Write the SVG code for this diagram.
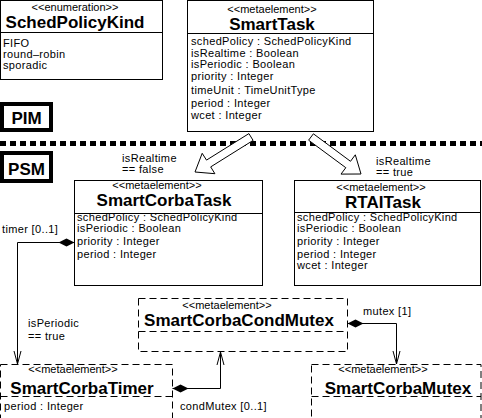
<svg xmlns="http://www.w3.org/2000/svg" width="482" height="418" viewBox="0 0 482 418">
<style>
.box{fill:#fff;stroke:#000;stroke-width:1}
.dbox{fill:#fff;stroke:#000;stroke-width:1;stroke-dasharray:7 4}
.thick{fill:#fff;stroke:#000;stroke-width:4}
.sep{stroke:#000;stroke-width:1}
.dsep{stroke:#000;stroke-width:1;stroke-dasharray:7 4}
.st{font-family:"Liberation Sans",Arial,sans-serif;font-size:11px;text-anchor:middle;fill:#000}
.ti{font-family:"Liberation Sans",Arial,sans-serif;font-size:17px;font-weight:bold;text-anchor:middle;fill:#000}
.at{font-family:"Liberation Sans",Arial,sans-serif;font-size:11px;letter-spacing:0.35px;fill:#000}
.lb{font-family:"Liberation Sans",Arial,sans-serif;font-size:11px;letter-spacing:0.35px;fill:#000}
.conn{fill:none;stroke:#000;stroke-width:1}
.fat{fill:#fff;stroke:#000;stroke-width:1}
</style>
<defs>
<marker id="dia" viewBox="-1 -5 18 10" markerWidth="18" markerHeight="10" refX="0" refY="0" markerUnits="userSpaceOnUse" orient="auto">
<path d="M0,0 L8,-4 L16,0 L8,4 Z" fill="#000"/>
</marker>
<marker id="open" viewBox="-14 -5 15 10" markerWidth="15" markerHeight="10" refX="0" refY="0" markerUnits="userSpaceOnUse" orient="auto">
<path d="M-13,-3.5 L0,0 L-13,3.5" fill="none" stroke="#000" stroke-width="1"/>
</marker>
</defs>

<line x1="0" y1="143.5" x2="482" y2="143.5" stroke="#000" stroke-width="5" stroke-dasharray="6 4"/>

<g id="SchedPolicyKind">
<rect class="box" x="0.5" y="0.5" width="162" height="79"/>
<line class="sep" x1="0.5" y1="32.5" x2="162.5" y2="32.5"/>
<text class="st" x="75" y="11">&lt;&lt;enumeration&gt;&gt;</text>
<text class="ti" x="75" y="28">SchedPolicyKind</text>
<text class="at" x="3" y="47">FIFO</text>
<text class="at" x="3" y="58">round–robin</text>
<text class="at" x="3" y="69">sporadic</text>
</g>

<g id="SmartTask">
<rect class="box" x="187.5" y="0.5" width="186" height="131"/>
<line class="sep" x1="187.5" y1="33.5" x2="373.5" y2="33.5"/>
<text class="st" x="272" y="13">&lt;&lt;metaelement&gt;&gt;</text>
<text class="ti" x="272" y="30">SmartTask</text>
<text class="at" x="191" y="45">schedPolicy : SchedPolicyKind</text>
<text class="at" x="191" y="57">isRealtime : Boolean</text>
<text class="at" x="191" y="68">isPeriodic : Boolean</text>
<text class="at" x="191" y="80">priority : Integer</text>
<text class="at" x="191" y="94">timeUnit : TimeUnitType</text>
<text class="at" x="191" y="107">period : Integer</text>
<text class="at" x="191" y="119">wcet : Integer</text>
</g>

<g id="PIM">
<rect class="thick" x="2" y="104" width="49" height="26"/>
<text class="ti" x="26.5" y="124">PIM</text>
</g>

<g id="PSM">
<rect class="thick" x="2" y="153" width="49" height="28"/>
<text class="ti" x="26.5" y="175">PSM</text>
</g>

<g id="SmartCorbaTask">
<rect class="box" x="74.5" y="180.5" width="188" height="105"/>
<line class="sep" x1="74.5" y1="213.5" x2="262.5" y2="213.5"/>
<text class="st" x="157" y="189">&lt;&lt;metaelement&gt;&gt;</text>
<text class="ti" x="164" y="206">SmartCorbaTask</text>
<text class="at" x="77" y="221">schedPolicy : SchedPolicyKind</text>
<text class="at" x="77" y="232">isPeriodic : Boolean</text>
<text class="at" x="77" y="245">priority : Integer</text>
<text class="at" x="77" y="258">period : Integer</text>
</g>

<g id="RTAITask">
<rect class="box" x="294.5" y="180.5" width="186" height="105"/>
<line class="sep" x1="294.5" y1="212.5" x2="480.5" y2="212.5"/>
<text class="st" x="381" y="191">&lt;&lt;metaelement&gt;&gt;</text>
<text class="ti" x="383" y="208">RTAITask</text>
<text class="at" x="297" y="221">schedPolicy : SchedPolicyKind</text>
<text class="at" x="297" y="232">isPeriodic : Boolean</text>
<text class="at" x="297" y="245">priority : Integer</text>
<text class="at" x="297" y="258">period : Integer</text>
<text class="at" x="297" y="269">wcet : Integer</text>
</g>

<g id="SmartCorbaCondMutex">
<rect class="dbox" x="138.5" y="298.5" width="209" height="53"/>
<line class="dsep" x1="138.5" y1="331.5" x2="347.5" y2="331.5"/>
<text class="st" x="227" y="309">&lt;&lt;metaelement&gt;&gt;</text>
<text class="ti" x="239" y="326">SmartCorbaCondMutex</text>
</g>

<g id="SmartCorbaTimer">
<rect class="dbox" x="0.5" y="364.5" width="172" height="60"/>
<line class="dsep" x1="0.5" y1="396.5" x2="172.5" y2="396.5"/>
<text class="st" x="73" y="373">&lt;&lt;metaelement&gt;&gt;</text>
<text class="ti" x="82" y="394">SmartCorbaTimer</text>
<text class="at" x="4" y="410">period : Integer</text>
</g>

<g id="SmartCorbaMutex">
<rect class="dbox" x="311.5" y="364.5" width="169.5" height="60"/>
<line class="dsep" x1="311.5" y1="396.5" x2="481" y2="396.5"/>
<text class="st" x="383" y="373">&lt;&lt;metaelement&gt;&gt;</text>
<text class="ti" x="398" y="394">SmartCorbaMutex</text>
</g>

<g id="connectors">
<polygon class="fat" points="253.1,140.4 210.7,166.9 214.9,173.7 195,172 202.2,153.3 206.5,160.1 248.9,133.6"/>
<polygon class="fat" points="308.6,140.2 345.8,167.7 341.0,174.1 361,174 355.3,154.8 350.5,161.3 313.4,133.8"/>
<text class="lb" x="122" y="162">isRealtime</text>
<text class="lb" x="122" y="173">== false</text>
<text class="lb" x="376" y="165">isRealtime</text>
<text class="lb" x="376" y="176">== true</text>

<path class="conn" d="M74.5,242.5 L17.5,242.5 L17.5,364" marker-start="url(#dia)" marker-end="url(#open)"/>
<text class="lb" x="2" y="233">timer [0..1]</text>
<text class="lb" x="28" y="327">isPeriodic</text>
<text class="lb" x="28" y="340">== true</text>

<path class="conn" d="M172.5,388.5 L220.5,388.5 L220.5,352" marker-start="url(#dia)" marker-end="url(#open)"/>
<text class="lb" x="180" y="410">condMutex [0..1]</text>

<path class="conn" d="M347.5,323.5 L396.5,323.5 L396.5,364" marker-start="url(#dia)" marker-end="url(#open)"/>
<text class="lb" x="363" y="315">mutex [1]</text>
</g>
</svg>
